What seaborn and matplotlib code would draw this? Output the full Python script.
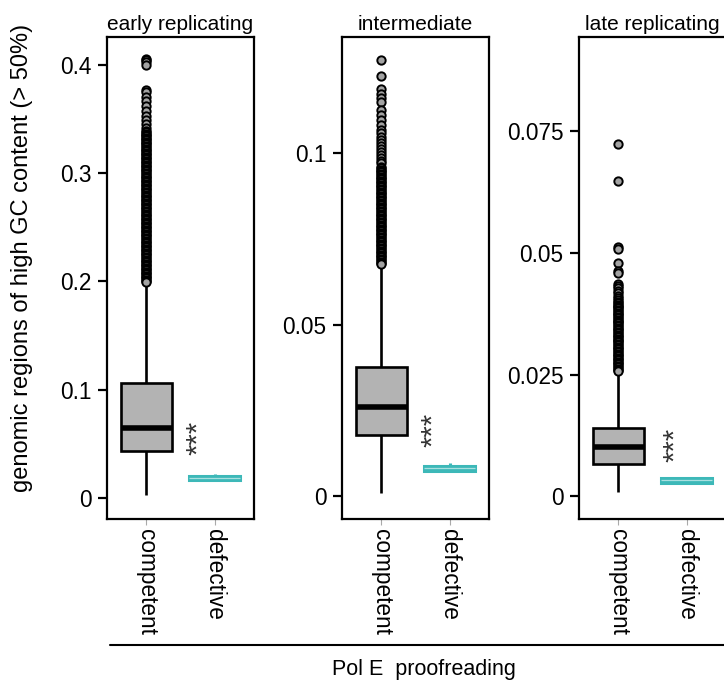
import numpy as np
import pandas as pd
import matplotlib
matplotlib.use("Agg")
import matplotlib.pyplot as plt
import seaborn as sns
from matplotlib.lines import Line2D

# ---------------- data ----------------
panels = ["early replicating", "intermediate", "late replicating"]
groups = ["competent", "defective"]

# whisker-low, Q1, median, Q3, whisker-high
early_competent = [0.003, 0.0435, 0.0645, 0.106, 0.197]
early_defective = [0.0160, 0.0166, 0.0186, 0.0206, 0.0224]
inter_competent = [0.0008, 0.0178, 0.0261, 0.0377, 0.0675]
inter_defective = [0.0072, 0.0074, 0.0081, 0.0088, 0.0097]
late_competent = [0.0008, 0.0066, 0.0101, 0.0140, 0.0255]
late_defective = [0.0026, 0.0028, 0.0033, 0.0038, 0.0040]

# outliers of the competent group
early_outliers = [
    0.4058, 0.4040, 0.4022, 0.3998, 0.3770, 0.3745, 0.3705, 0.3665, 0.3620,
    0.3572, 0.3530, 0.3490, 0.3455, 0.3420,
    0.3390, 0.3378, 0.3365, 0.3352, 0.3340, 0.3327, 0.3315, 0.3302, 0.3290, 0.3277,
    0.3265, 0.3252, 0.3240, 0.3227, 0.3215, 0.3202, 0.3190, 0.3177, 0.3165, 0.3152,
    0.3140, 0.3127, 0.3115, 0.3102, 0.3090, 0.3077, 0.3065, 0.3052, 0.3040, 0.3027,
    0.3015, 0.3002, 0.2990, 0.2977, 0.2965, 0.2952, 0.2940, 0.2927, 0.2915, 0.2902,
    0.2890, 0.2877, 0.2865, 0.2852, 0.2840, 0.2827, 0.2815, 0.2802, 0.2790, 0.2777,
    0.2765, 0.2752, 0.2740, 0.2727, 0.2715, 0.2702, 0.2690, 0.2677, 0.2665, 0.2652,
    0.2640, 0.2627, 0.2615, 0.2602, 0.2590, 0.2577, 0.2565, 0.2552, 0.2540, 0.2527,
    0.2515, 0.2502, 0.2490, 0.2477, 0.2465, 0.2452, 0.2440, 0.2427, 0.2415, 0.2402,
    0.2390, 0.2377, 0.2365, 0.2352, 0.2340, 0.2327, 0.2315, 0.2302, 0.2290, 0.2277,
    0.2265, 0.2252, 0.2240, 0.2227, 0.2215, 0.2202, 0.2190, 0.2177, 0.2165, 0.2152,
    0.2140, 0.2127, 0.2115, 0.2102, 0.2090, 0.2077, 0.2065, 0.2052, 0.2040, 0.2027,
    0.2015, 0.2002, 0.1990,
]
inter_outliers = [
    0.1272, 0.1225, 0.1186, 0.1172, 0.1160, 0.1148, 0.1125, 0.1112, 0.1098,
    0.1082, 0.1068, 0.1058, 0.1048, 0.1040, 0.1030, 0.1021, 0.1012, 0.1004,
    0.0995, 0.0987, 0.0978, 0.0970, 0.0961,
    0.0956, 0.0952, 0.0948, 0.0944, 0.0940, 0.0936, 0.0932, 0.0928, 0.0924, 0.0920,
    0.0916, 0.0912, 0.0908, 0.0904, 0.0900, 0.0896, 0.0892, 0.0888, 0.0884, 0.0880,
    0.0876, 0.0872, 0.0868, 0.0864, 0.0860, 0.0856, 0.0852, 0.0848, 0.0844, 0.0840,
    0.0836, 0.0832, 0.0828, 0.0824, 0.0820, 0.0816, 0.0812, 0.0808, 0.0804, 0.0800,
    0.0796, 0.0792, 0.0788, 0.0784, 0.0780, 0.0776, 0.0772, 0.0768, 0.0764, 0.0760,
    0.0756, 0.0752, 0.0748, 0.0744, 0.0740, 0.0736, 0.0732, 0.0728, 0.0724, 0.0720,
    0.0716, 0.0712, 0.0708, 0.0704, 0.0700, 0.0696, 0.0692, 0.0688, 0.0684, 0.0680,
    0.0677,
]
late_outliers = [
    0.0725, 0.0648, 0.0513, 0.0509, 0.0480, 0.0462, 0.0458, 0.0437, 0.0432,
    0.0427, 0.0422, 0.0417, 0.0412, 0.0407, 0.0403,
    0.0400, 0.0397, 0.0394, 0.0391, 0.0388, 0.0386, 0.0383, 0.0380, 0.0377, 0.0374,
    0.0372, 0.0369, 0.0366, 0.0363, 0.0360, 0.0358, 0.0355, 0.0352, 0.0349, 0.0346,
    0.0344, 0.0341, 0.0338, 0.0335, 0.0332, 0.0330, 0.0327, 0.0324, 0.0321, 0.0318,
    0.0316, 0.0313, 0.0310, 0.0307, 0.0304, 0.0302, 0.0299, 0.0296, 0.0293, 0.0290,
    0.0288, 0.0285, 0.0282, 0.0279, 0.0276, 0.0274, 0.0271, 0.0268, 0.0265, 0.0262,
    0.0260, 0.0257,
]

early_ticks = [0, 0.1, 0.2, 0.3, 0.4]
early_ticklabels = ["0", "0.1", "0.2", "0.3", "0.4"]
inter_ticks = [0, 0.05, 0.1]
inter_ticklabels = ["0", "0.05", "0.1"]
late_ticks = [0, 0.025, 0.05, 0.075]
late_ticklabels = ["0", "0.025", "0.05", "0.075"]

star_x = [0.76, 0.76, 0.83]
star_y = [0.055, 0.0192, 0.0105]
ylims = [(-0.0194, 0.4257), (-0.0067, 0.1339), (-0.0047, 0.0944)]

ylabel = "genomic regions of high GC content (> 50%)"
xlabel = "Pol E  proofreading"

# ---------------- style ----------------
sns.set_theme(style="ticks")
plt.rcParams["font.family"] = ["Liberation Sans", "DejaVu Sans"]
for key in ["text.color", "axes.labelcolor", "xtick.color", "ytick.color",
            "xtick.labelcolor", "ytick.labelcolor"]:
    plt.rcParams[key] = "black"

GRAY_BOX = "#b3b3b3"
GRAY_PT = "#a3a3a3"
TEAL = "#3db8b8"
TEAL_LIGHT = "#a9e0e0"
FS = 16.3

W, H = 724, 691
fig = plt.figure(figsize=(W / 100, H / 100), dpi=100)

lefts = [107, 342, 579]
ax_w = 147
top_px, bot_px = 37, 519

comp_sets = [early_competent, inter_competent, late_competent]
def_sets = [early_defective, inter_defective, late_defective]
out_sets = [early_outliers, inter_outliers, late_outliers]
tick_sets = [(early_ticks, early_ticklabels), (inter_ticks, inter_ticklabels),
             (late_ticks, late_ticklabels)]

for i in range(3):
    ax = fig.add_axes([lefts[i] / W, 1 - bot_px / H, ax_w / W, (bot_px - top_px) / H])
    df_c = pd.DataFrame({"group": ["competent"] * len(comp_sets[i]), "value": comp_sets[i]})
    df_d = pd.DataFrame({"group": ["defective"] * len(def_sets[i]), "value": def_sets[i]})
    df_o = pd.DataFrame({"group": ["competent"] * len(out_sets[i]), "value": out_sets[i]})

    sns.boxplot(data=df_c, x="group", y="value", order=groups, color=GRAY_BOX,
                linecolor="black", saturation=1, width=0.74, whis=np.inf,
                showfliers=False, showcaps=False, linewidth=1.9,
                medianprops=dict(color="black", linewidth=4.0, solid_capstyle="butt"),
                ax=ax)
    sns.boxplot(data=df_d, x="group", y="value", order=groups, color=TEAL,
                linecolor=TEAL, saturation=1, width=0.74, whis=np.inf,
                showfliers=False, showcaps=False, linewidth=2.2,
                medianprops=dict(color=TEAL_LIGHT, linewidth=0.9),
                ax=ax)
    sns.stripplot(data=df_o, x="group", y="value", order=groups, jitter=False,
                  color=GRAY_PT, edgecolor="black", linewidth=1.4, size=6.0,
                  ax=ax, zorder=4)

    ax.text(star_x[i], star_y[i], "***", rotation=90, ha="center", va="center",
            fontsize=21, color="#333333")

    ax.set_xlim(-0.58, 1.58)
    ax.set_ylim(*ylims[i])
    ticks, labels = tick_sets[i]
    ax.set_yticks(ticks)
    ax.set_yticklabels(labels)
    ax.set_xticks([0, 1])
    ax.set_xticklabels(groups, rotation=-90, va="top", ha="center")
    ax.tick_params(axis="y", length=6.5, width=1.6, color="black", labelsize=FS, pad=4.5)
    ax.tick_params(axis="x", length=4, width=0.8, color="#aaaaaa", labelsize=FS, pad=3)
    ax.set_xlabel("")
    ax.set_ylabel("")
    for s in ax.spines.values():
        s.set_visible(True)
        s.set_linewidth(1.6)
        s.set_color("black")
    ax.set_title(panels[i], fontsize=15, pad=5)

fig.text(22 / W, 1 - 258 / H, ylabel, rotation=90, ha="center", va="center", fontsize=17)
fig.text(424 / W, 1 - 670 / H, xlabel, ha="center", va="center", fontsize=15.5)
fig.add_artist(Line2D([110 / W, 1.0], [1 - 645 / H, 1 - 645 / H], color="black",
                      linewidth=1.5, transform=fig.transFigure))

fig.savefig("out.png", dpi=100)
